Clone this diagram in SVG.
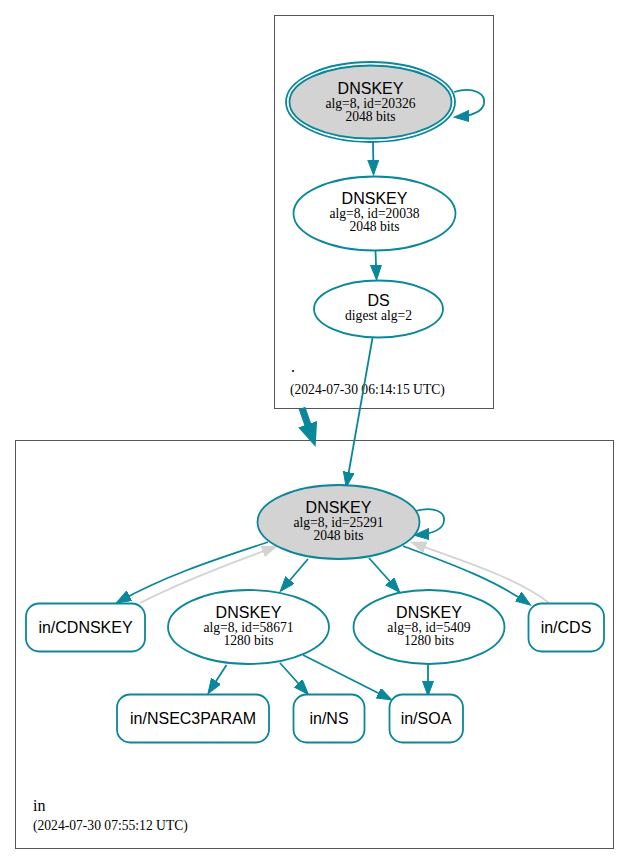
<svg xmlns="http://www.w3.org/2000/svg" width="631" height="865" viewBox="0 0 631 865">
<style>
.cl{fill:none;stroke:#555;stroke-width:1}
.nd{fill:#fff;stroke:#0a879a;stroke-width:1.8}
.ks{fill:#d3d3d3;stroke:#0a879a;stroke-width:1.8}
.e{fill:none;stroke:#0a879a;stroke-width:1.8;marker-end:url(#a)}
.g{fill:none;stroke:#d3d3d3;stroke-width:1.8;marker-end:url(#ag)}
.t1{font-family:"Liberation Sans",Arial,sans-serif;font-size:16px;text-anchor:middle;fill:#000}
.t2{font-family:"Liberation Serif","Times New Roman",serif;font-size:13.6px;text-anchor:middle;fill:#000}
.lb{font-family:"Liberation Serif","Times New Roman",serif;fill:#000}
</style>
<defs>
<marker id="a" markerUnits="userSpaceOnUse" markerWidth="17" markerHeight="12" refX="13" refY="5.5" orient="auto"><path d="M0,0 L15,5.5 L0,11 z" fill="#0a879a" stroke="#0a879a" stroke-width="1"/></marker>
<marker id="ag" markerUnits="userSpaceOnUse" markerWidth="17" markerHeight="12" refX="13" refY="5.5" orient="auto"><path d="M0,0 L15,5.5 L0,11 z" fill="#d3d3d3" stroke="#d3d3d3" stroke-width="1"/></marker>
<marker id="big" markerUnits="userSpaceOnUse" markerWidth="26" markerHeight="22" refX="4" refY="10" orient="auto"><path d="M0,0 L24,10 L0,20 z" fill="#0a879a"/></marker>
</defs>
<rect width="631" height="865" fill="#fff"/>
<g id="cluster-root">
<rect class="cl" x="274.5" y="15.5" width="219" height="393"/>
<text class="lb" x="291" y="372" font-size="16">.</text>
<text class="lb" x="290" y="394" font-size="13.6">(2024-07-30 06:14:15 UTC)</text>
</g>
<g id="cluster-in">
<rect class="cl" x="15.5" y="440.5" width="598" height="408"/>
<text class="lb" x="33" y="810.5" font-size="16">in</text>
<text class="lb" x="33" y="830" font-size="13.6">(2024-07-30 07:55:12 UTC)</text>
</g>
<g id="connectors">
<path class="e" d="M454,92 C474,86 486,94 484,104 C482,112 470,116 456,117"/>
<path class="e" d="M373,142 L373.5,173"/>
<path class="e" d="M375.5,251 L376.5,278"/>
<path class="e" d="M372.5,338 L346.5,485"/>
<path d="M302,408 L309,428" fill="none" stroke="#0a879a" stroke-width="7" marker-end="url(#big)"/>
<path class="e" d="M415,511 C435,506 445,512 444,521 C443,530 430,534 416,535"/>
<path class="e" d="M268,542 C230,555 172,572 118,602"/>
<path class="g" d="M140,603 C175,585 225,565 275,547"/>
<path class="e" d="M308,559 L281.5,590"/>
<path class="e" d="M369,558 L398.5,591"/>
<path class="e" d="M403,546 C440,560 490,577 529,604"/>
<path class="g" d="M549,603 C520,580 470,563 413,543"/>
<path class="e" d="M226.5,665 L209,692"/>
<path class="e" d="M280,663 L307,693"/>
<path class="e" d="M303,655 L390,699"/>
<path class="e" d="M428,665 L428,694"/>
</g>
<g id="dnskey-20326">
<ellipse cx="370.5" cy="102" rx="84.5" ry="40" fill="none" stroke="#0a879a" stroke-width="1.8"/>
<ellipse class="ks" cx="370.5" cy="102" rx="81" ry="36.5"/>
<text class="t1" x="370.5" y="94">DNSKEY</text>
<text class="t2" x="370.5" y="108">alg=8, id=20326</text>
<text class="t2" x="370.5" y="121">2048 bits</text>
</g>
<g id="dnskey-20038">
<ellipse class="nd" cx="374.5" cy="213.5" rx="81" ry="37"/>
<text class="t1" x="374.5" y="204">DNSKEY</text>
<text class="t2" x="374.5" y="218">alg=8, id=20038</text>
<text class="t2" x="374.5" y="231">2048 bits</text>
</g>
<g id="ds">
<ellipse class="nd" cx="378.5" cy="309" rx="64.5" ry="28.5"/>
<text class="t1" x="378.5" y="306">DS</text>
<text class="t2" x="378.5" y="320">digest alg=2</text>
</g>
<g id="dnskey-25291">
<ellipse class="ks" cx="338.5" cy="522" rx="81" ry="37"/>
<text class="t1" x="338.5" y="513">DNSKEY</text>
<text class="t2" x="338.5" y="527">alg=8, id=25291</text>
<text class="t2" x="338.5" y="540">2048 bits</text>
</g>
<g id="in-cdnskey">
<rect class="nd" x="26" y="603.5" width="119" height="48" rx="13"/>
<text class="t1" x="85.5" y="633">in/CDNSKEY</text>
</g>
<g id="dnskey-58671">
<ellipse class="nd" cx="248.5" cy="627" rx="80.5" ry="37"/>
<text class="t1" x="248.5" y="618">DNSKEY</text>
<text class="t2" x="248.5" y="632">alg=8, id=58671</text>
<text class="t2" x="248.5" y="645">1280 bits</text>
</g>
<g id="dnskey-5409">
<ellipse class="nd" cx="429" cy="627" rx="75.5" ry="37"/>
<text class="t1" x="429" y="618">DNSKEY</text>
<text class="t2" x="429" y="632">alg=8, id=5409</text>
<text class="t2" x="429" y="645">1280 bits</text>
</g>
<g id="in-cds">
<rect class="nd" x="528.5" y="603.5" width="75.5" height="48" rx="13"/>
<text class="t1" x="566" y="633">in/CDS</text>
</g>
<g id="in-nsec3param">
<rect class="nd" x="117" y="694.5" width="152" height="48" rx="13"/>
<text class="t1" x="193" y="724">in/NSEC3PARAM</text>
</g>
<g id="in-ns">
<rect class="nd" x="293.5" y="694.5" width="71" height="48" rx="13"/>
<text class="t1" x="329" y="724">in/NS</text>
</g>
<g id="in-soa">
<rect class="nd" x="389.5" y="694.5" width="73.5" height="48" rx="13"/>
<text class="t1" x="426" y="724">in/SOA</text>
</g>
</svg>
